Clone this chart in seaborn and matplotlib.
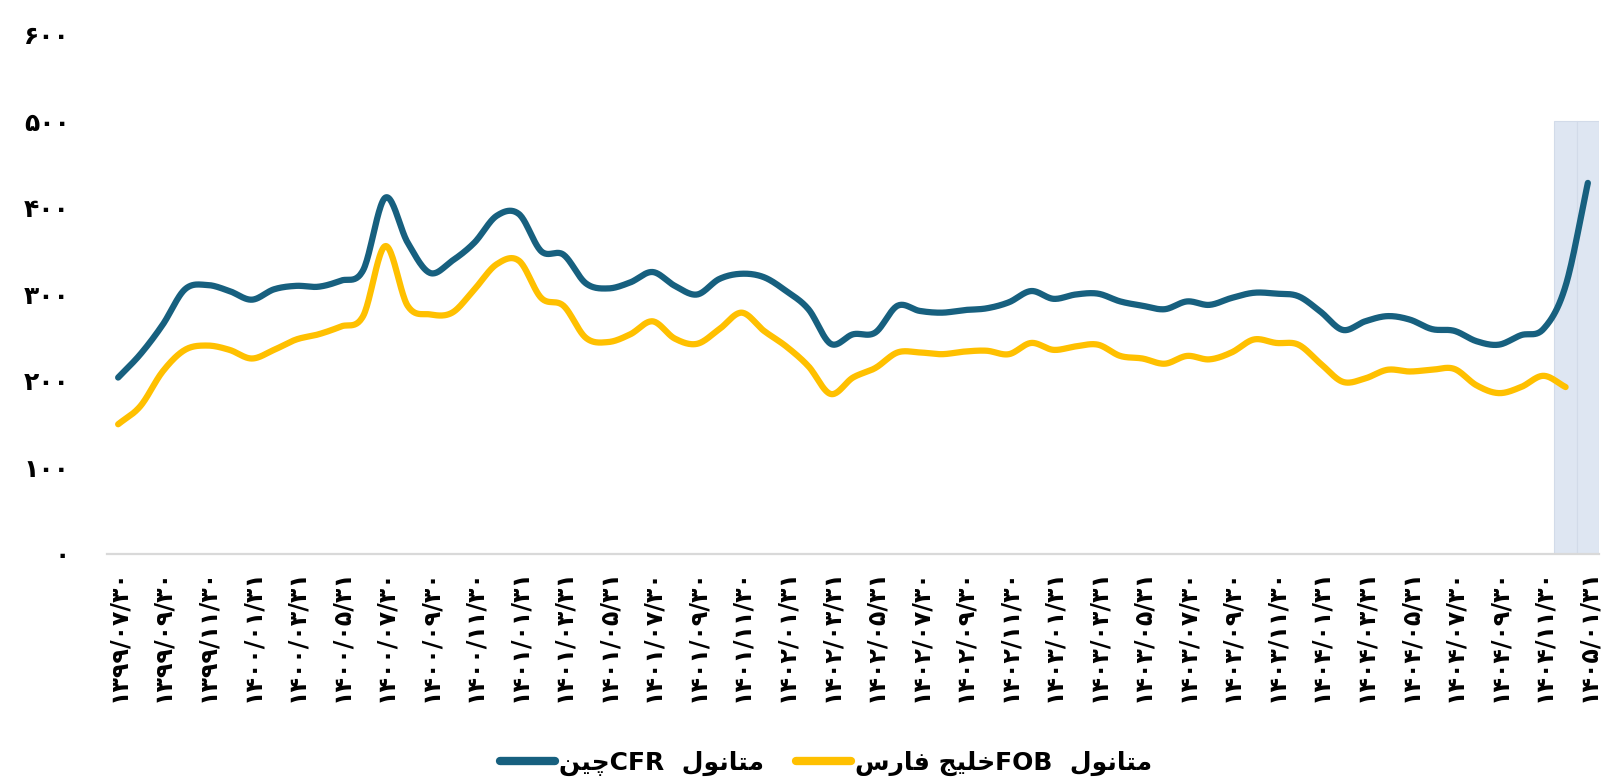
import numpy as np
import pandas as pd
import matplotlib
matplotlib.use("Agg")
import matplotlib.pyplot as plt
import seaborn as sns

# ---------------- data ----------------
tick_labels = [
    "۱۳۹۹/۰۷/۳۰", "۱۳۹۹/۰۹/۳۰", "۱۳۹۹/۱۱/۳۰", "۱۴۰۰/۰۱/۳۱", "۱۴۰۰/۰۳/۳۱",
    "۱۴۰۰/۰۵/۳۱", "۱۴۰۰/۰۷/۳۰", "۱۴۰۰/۰۹/۳۰", "۱۴۰۰/۱۱/۳۰", "۱۴۰۱/۰۱/۳۱",
    "۱۴۰۱/۰۳/۳۱", "۱۴۰۱/۰۵/۳۱", "۱۴۰۱/۰۷/۳۰", "۱۴۰۱/۰۹/۳۰", "۱۴۰۱/۱۱/۳۰",
    "۱۴۰۲/۰۱/۳۱", "۱۴۰۲/۰۳/۳۱", "۱۴۰۲/۰۵/۳۱", "۱۴۰۲/۰۷/۳۰", "۱۴۰۲/۰۹/۳۰",
    "۱۴۰۲/۱۱/۳۰", "۱۴۰۳/۰۱/۳۱", "۱۴۰۳/۰۳/۳۱", "۱۴۰۳/۰۵/۳۱", "۱۴۰۳/۰۷/۳۰",
    "۱۴۰۳/۰۹/۳۰", "۱۴۰۳/۱۱/۳۰", "۱۴۰۴/۰۱/۳۱", "۱۴۰۴/۰۳/۳۱", "۱۴۰۴/۰۵/۳۱",
    "۱۴۰۴/۰۷/۳۰", "۱۴۰۴/۰۹/۳۰", "۱۴۰۴/۱۱/۳۰", "۱۴۰۵/۰۱/۳۱",
]

cfr_china = [
    204, 231, 265, 306, 311, 304, 294, 306, 310, 309,
    316, 328, 412, 360, 325, 339, 360, 391, 393, 350,
    346, 313, 307, 314, 326, 310, 300, 318, 324, 320,
    304, 283, 243, 254, 256, 287, 281, 279, 282, 284,
    291, 304, 295, 300, 301, 292, 287, 283, 292, 288,
    296, 302, 301, 298, 280, 259, 269, 275, 271, 260,
    258, 246, 242, 253, 260, 310, 429,
]

fob_persian_gulf = [
    150, 171, 211, 236, 241, 236, 226, 236, 248, 254,
    263, 275, 356, 287, 277, 279, 306, 335, 339, 296,
    287, 250, 245, 254, 269, 249, 243, 260, 279, 258,
    240, 217, 185, 204, 215, 233, 233, 231, 234, 235,
    231, 244, 236, 240, 242, 229, 226, 220, 229, 225,
    233, 248, 244, 242, 220, 199, 203, 213, 211, 213,
    214, 195, 186, 193, 206, 193,
]

highlight_index = [65, 66]
highlight_value = [500, 500]

y_ticks = [0, 100, 200, 300, 400, 500, 600]
y_tick_labels = ["۰", "۱۰۰", "۲۰۰", "۳۰۰", "۴۰۰", "۵۰۰", "۶۰۰"]

# legend labels (Persian, written in visual order with Arabic presentation forms)
label_cfr = "\uFEE6\uFEF4\uFB7CCFR  \uFEDD\uFEEE\uFEE7\uFE8E\uFE98\uFEE3"
label_fob = "\uFEB1\uFEAD\uFE8E\uFED3 \uFE9E\uFEF4\uFEE0\uFEA7FOB  \uFEDD\uFEEE\uFEE7\uFE8E\uFE98\uFEE3"

BLUE = "#17607f"
GOLD = "#ffc000"
SHADE = "#dee6f2"


def smooth(values, n=24):
    """Catmull-Rom rendering of a category series (like Excel smoothed lines)."""
    p = np.asarray(values, float)
    ext = np.concatenate([[2 * p[0] - p[1]], p, [2 * p[-1] - p[-2]]])
    xs, ys = [], []
    t = np.linspace(0, 1, n, endpoint=False)
    for i in range(len(p) - 1):
        p0, p1, p2, p3 = ext[i], ext[i + 1], ext[i + 2], ext[i + 3]
        y = 0.5 * (2 * p1 + (-p0 + p2) * t + (2 * p0 - 5 * p1 + 4 * p2 - p3) * t ** 2
                   + (-p0 + 3 * p1 - 3 * p2 + p3) * t ** 3)
        xs.append(i + t)
        ys.append(y)
    xs.append([len(p) - 1])
    ys.append([p[-1]])
    return np.concatenate(xs), np.concatenate(ys)


sns.set_theme(style="white")
plt.rcParams["font.family"] = ["DejaVu Sans"]
plt.rcParams["text.color"] = "black"

fig = plt.figure(figsize=(16.01, 7.84), dpi=100)
ax = fig.add_axes([107 / 1601, 1 - 554 / 784, (1599 - 107) / 1601, (554 - 35) / 784])

ax.bar(highlight_index, highlight_value, width=1.0, color=SHADE,
       edgecolor="#d2dbe9", linewidth=0.8, zorder=1)

xf, yf = smooth(fob_persian_gulf)
xc, yc = smooth(cfr_china)
df_f = pd.DataFrame({"x": xf, "y": yf})
df_c = pd.DataFrame({"x": xc, "y": yc})
sns.lineplot(data=df_c, x="x", y="y", ax=ax, color=BLUE, linewidth=4.5,
             solid_capstyle="round", label=label_cfr, zorder=3, estimator=None, sort=False)
sns.lineplot(data=df_f, x="x", y="y", ax=ax, color=GOLD, linewidth=4.5,
             solid_capstyle="round", label=label_fob, zorder=3, estimator=None, sort=False)

ax.set_xlim(-0.5, len(cfr_china) - 0.5)
ax.set_ylim(0, 600)
ax.set_xlabel("")
ax.set_ylabel("")

ax.set_yticks(y_ticks)
ax.set_yticklabels(y_tick_labels, fontsize=18, fontweight="bold", color="black")
ax.set_xticks(np.arange(0, len(cfr_china), 2))
ax.set_xticklabels(tick_labels, rotation=90, fontsize=17, fontweight="bold", color="black")
ax.tick_params(axis="y", length=0, pad=27)
ax.tick_params(axis="x", length=0, pad=11)

for s in ["left", "right", "top"]:
    ax.spines[s].set_visible(False)
ax.spines["bottom"].set_color("#d9d9d9")
ax.spines["bottom"].set_linewidth(1.6)
ax.grid(False)

handles, labels = ax.get_legend_handles_labels()
ax.get_legend().remove()
leg = fig.legend(handles, labels, loc="center", bbox_to_anchor=(0.516, 0.026), ncol=2,
                 frameon=False, handlelength=2.2, columnspacing=1.3, handletextpad=0.15,
                 prop={"size": 18, "weight": "bold"})
for t in leg.get_texts():
    t.set_color("black")
for h in leg.get_lines():
    h.set_linewidth(6)
    h.set_solid_capstyle("round")

fig.savefig("out.png", dpi=100)
